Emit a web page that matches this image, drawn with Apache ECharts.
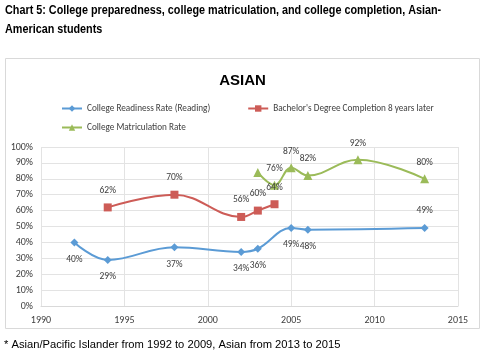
<!DOCTYPE html>
<html><head><meta charset="utf-8">
<script src="https://cdn.jsdelivr.net/npm/echarts@6/dist/echarts.min.js"></script>
<style>html,body{margin:0;padding:0;background:#fff}#c{width:485px;height:360px}</style>
</head><body><div id="c"></div>
<script>
const readinessYears = [1992, 1994, 1998, 2002, 2003, 2005, 2006, 2013];
const readinessVals  = [40, 29, 37, 34, 36, 49, 48, 49];
const bachelorYears  = [1994, 1998, 2002, 2003, 2004];
const bachelorVals   = [62, 70, 56, 60, 64];
const matricYears    = [2003, 2004, 2005, 2006, 2009, 2013];
const matricVals     = [84, 76, 87, 82, 92, 80];
const matricLabelShown = [false, true, true, true, true, true];
const seriesNames = ['College Readiness Rate (Reading)', "Bachelor's Degree Completion 8 years later", 'College Matriculation Rate'];
const headingText = ['Chart 5: College preparedness, college matriculation, and college completion, Asian-', 'American students'];
const footnoteText = '* Asian/Pacific Islander from 1992 to 2009, Asian from 2013 to 2015';
const chartTitle = 'ASIAN';

const FONT = 'Carlito, Calibri, Liberation Sans, sans-serif';
const lblStyle = {show: true, formatter: p => p.value[1] + '%', fontSize: 9.5, color: '#404040', fontFamily: FONT};

const chart = echarts.init(document.getElementById('c'), null, {renderer: 'canvas'});
chart.setOption({
  animation: false,
  title: {text: chartTitle, left: 'center', top: 68, textStyle: {fontSize: 15, fontWeight: 'bold', color: '#000', fontFamily: 'Liberation Sans, Arial, sans-serif'}},
  graphic: [
    {type: 'rect', shape: {x: 5.5, y: 58.5, width: 474, height: 270}, style: {fill: 'none', stroke: '#d9d9d9', lineWidth: 1}, z: -1},
    {type: 'text', x: 5, y: 4, scaleX: 0.865, style: {text: headingText[0], font: 'bold 12.5px Liberation Sans, Arial, sans-serif', fill: '#000'}},
    {type: 'text', x: 5, y: 23, scaleX: 0.865, style: {text: headingText[1], font: 'bold 12.5px Liberation Sans, Arial, sans-serif', fill: '#000'}},
    {type: 'text', x: 4, y: 339, style: {text: footnoteText, font: '11.2px Liberation Sans, Arial, sans-serif', fill: '#000'}}
  ],
  legend: [
    {data: [seriesNames[0], seriesNames[1]], left: 56, top: 99, itemWidth: 20, itemHeight: 8, itemGap: 37,
     textStyle: {fontSize: 9.2, color: '#404040', fontFamily: FONT}},
    {data: [seriesNames[2]], left: 56, top: 118, itemWidth: 20, itemHeight: 8,
     textStyle: {fontSize: 9.2, color: '#404040', fontFamily: FONT}}
  ],
  grid: {left: 41, right: 27, top: 147, bottom: 54},
  xAxis: {type: 'value', min: 1990, max: 2015, interval: 5,
    axisLine: {show: true, lineStyle: {color: '#d9d9d9'}}, axisTick: {show: false},
    splitLine: {show: true, lineStyle: {color: '#e3e3e3'}},
    axisLabel: {formatter: v => String(v), color: '#404040', fontSize: 10, margin: 9, fontFamily: FONT}},
  yAxis: {type: 'value', min: 0, max: 100, interval: 10,
    axisLine: {show: false}, axisTick: {show: false},
    splitLine: {show: true, lineStyle: {color: '#e3e3e3'}},
    axisLabel: {formatter: '{value}%', color: '#404040', fontSize: 10, margin: 8, fontFamily: FONT}},
  series: [
    {name: seriesNames[0], type: 'line', smooth: 0.4,
     data: readinessYears.map((x, i) => ({value: [x, readinessVals[i]], label: i === readinessYears.length - 1 ? {position: 'top'} : undefined})),
     symbol: 'diamond', symbolSize: 8, itemStyle: {color: '#5B9BD5'}, lineStyle: {width: 2, color: '#5B9BD5'},
     label: Object.assign({}, lblStyle, {position: 'bottom', distance: 8}), emphasis: {disabled: true}},
    {name: seriesNames[1], type: 'line', smooth: 0.4,
     data: bachelorYears.map((x, i) => [x, bachelorVals[i]]),
     symbol: 'rect', symbolSize: 8, itemStyle: {color: '#CD5C57'}, lineStyle: {width: 2, color: '#CD5C57'},
     label: Object.assign({}, lblStyle, {position: 'top', distance: 8}), emphasis: {disabled: true}},
    {name: seriesNames[2], type: 'line', smooth: 0.4,
     data: matricYears.map((x, i) => ({value: [x, matricVals[i]], label: {show: matricLabelShown[i]}})),
     symbol: 'triangle', symbolSize: 9, itemStyle: {color: '#9BBB59'}, lineStyle: {width: 2, color: '#9BBB59'},
     label: Object.assign({}, lblStyle, {position: 'top', distance: 7}), emphasis: {disabled: true}}
  ]
});
</script></body></html>
